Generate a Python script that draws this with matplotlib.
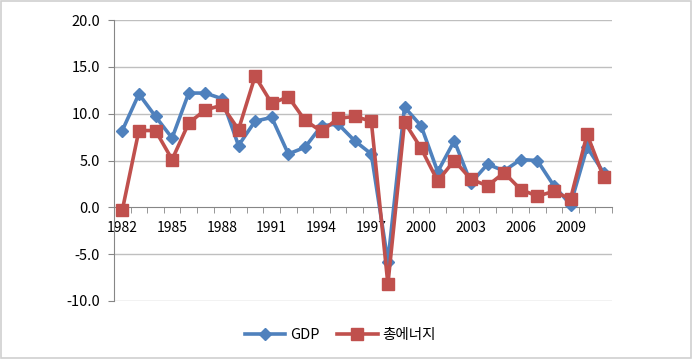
import numpy as np
import matplotlib.pyplot as plt
from matplotlib.patches import Rectangle

plt.rcParams['font.family'] = ['Noto Sans CJK KR', 'DejaVu Sans']

years = list(range(1982, 2012))
gdp = [8.2, 12.1, 9.7, 7.4, 12.2, 12.2, 11.6, 6.6, 9.2, 9.6,
       5.7, 6.4, 8.7, 8.9, 7.1, 5.7, -5.8, 10.7, 8.7, 3.8,
       7.1, 2.6, 4.6, 3.9, 5.1, 5.0, 2.3, 0.3, 6.4, 3.7]
energy = [-0.3, 8.2, 8.2, 5.1, 9.0, 10.4, 10.9, 8.3, 14.0, 11.1,
          11.8, 9.3, 8.1, 9.5, 9.7, 9.2, -8.2, 9.1, 6.3, 2.8,
          5.0, 3.0, 2.3, 3.7, 1.9, 1.2, 1.7, 0.9, 7.8, 3.2]
yticks = [-10, -5, 0, 5, 10, 15, 20]

blue = '#4F81BD'
red = '#C0504D'
grid = '#BFBFBF'

fig = plt.figure(figsize=(6.92, 3.60), dpi=100)
ax = fig.add_axes([114 / 692, 1 - 301 / 360, 498 / 692, 281 / 360])

x = np.arange(len(years))
ax.plot(x, gdp, color=blue, lw=2.6, marker='D', ms=6.5, label='GDP', zorder=3)
ax.plot(x, energy, color=red, lw=2.6, marker='s', ms=8.5, label='총에너지', zorder=4)

ax.set_xlim(-0.5, len(years) - 0.5)
ax.set_ylim(-10, 20)
ax.set_yticks(yticks)
ax.set_yticklabels([f'{v:.1f}' for v in yticks], fontsize=10.5)
for v in yticks:
    if v != 0:
        ax.axhline(v, color=grid, lw=1, zorder=1)

ax.set_xticks(x[::3])
ax.set_xticklabels([str(y) for y in years[::3]], fontsize=10.5)
ax.set_xticks(np.arange(len(years) + 1) - 0.5, minor=True)
ax.tick_params(axis='x', which='major', length=0, pad=10)
ax.tick_params(axis='x', which='minor', length=4, color='#868686', direction='out')
ax.tick_params(axis='y', length=4, color='#868686', pad=6)

for s in ['top', 'right']:
    ax.spines[s].set_visible(False)
ax.spines['bottom'].set_position(('data', 0))
ax.spines['bottom'].set_color('#868686')
ax.spines['left'].set_color('#868686')

ax.legend(loc='center', bbox_to_anchor=(340 / 692, 1 - 335 / 360),
          bbox_transform=fig.transFigure, ncol=2, frameon=False,
          fontsize=10.5, handlelength=2.8, columnspacing=1.2, handletextpad=0.3)

fig.patches.append(Rectangle((0.001, 0.006), 0.997, 0.992, transform=fig.transFigure,
                             fill=False, edgecolor='#D0D0D0', lw=1.2))

fig.savefig('out.png', dpi=100)
